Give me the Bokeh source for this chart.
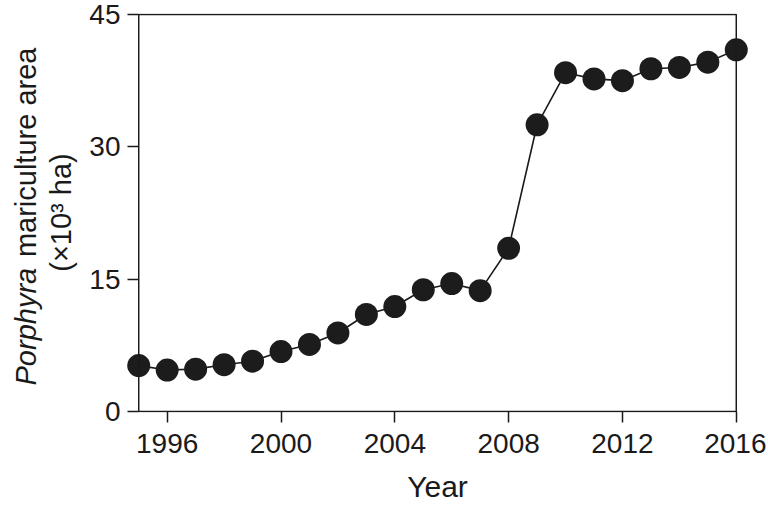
import numpy as np
from bokeh.plotting import figure
from bokeh.layouts import row
from bokeh.models import Range1d, FixedTicker, BoxAnnotation
from bokeh.core.properties import value
from bokeh.embed import file_html
from bokeh.resources import INLINE

# ---- data ----
years = list(range(1995, 2017))
area = [5.2, 4.7, 4.8, 5.3, 5.7, 6.8, 7.6, 8.9, 11.0, 11.9, 13.8,
        14.5, 13.7, 18.5, 32.5, 38.4, 37.7, 37.5, 38.85, 39.0, 39.6, 41.0]
x_ticks = [1996, 2000, 2004, 2008, 2012, 2016]
y_ticks = [0, 15, 30, 45]
x_start, x_end = 1995, 2016
y_start, y_end = 0, 45

FONT = "Liberation Sans"
INK = "#1a1a1a"
XPAD = 0.5      # room so the edge markers are not clipped
YPAD = 0.1133   # ~1 px

TOTAL_W, H = 766, 507
LAB_W = 80
FRAME_LEFT = 124       # window x of the main plot's frame
TOP, BOTTOM = 13, 95   # shared borders so the frames line up

# ---------------- y-axis title strip ----------------
# frame covers window rows TOP..H-BOTTOM; 1 data unit = 1 px, y measured upward
lab = figure(width=LAB_W, height=H, output_backend="svg", toolbar_location=None,
             x_range=Range1d(0, LAB_W), y_range=Range1d(BOTTOM, H - TOP),
             x_axis_type=None, y_axis_type=None,
             min_border_left=0, min_border_right=0,
             min_border_top=TOP, min_border_bottom=BOTTOM)
lab.outline_line_color = None
lab.xgrid.grid_line_color = None
lab.ygrid.grid_line_color = None

tcommon = dict(angle=np.pi / 2, text_font=value(FONT), text_font_size="29px",
               text_color=INK, text_baseline="alphabetic")
lab.text(x=[25], y=[H - 385], text=["Porphyra"], text_align="left",
         text_font_style="italic", **tcommon)
lab.text(x=[25], y=[H - 39], text=[" mariculture area"], text_align="right",
         text_font_style="normal", **tcommon)
lab.text(x=[60], y=[H - 212], text=["(×10³ ha)"], text_align="center",
         text_font_style="normal", **tcommon)

# ---------------- main plot ----------------
p = figure(width=TOTAL_W - LAB_W, height=H, output_backend="svg", toolbar_location=None,
           x_range=Range1d(x_start - XPAD, x_end + XPAD),
           y_range=Range1d(y_start - YPAD, y_end + YPAD),
           min_border_left=FRAME_LEFT - LAB_W, min_border_right=16,
           min_border_top=TOP, min_border_bottom=BOTTOM)

p.outline_line_color = None
p.xgrid.grid_line_color = None
p.ygrid.grid_line_color = None

# frame box at the true data extent
p.add_layout(BoxAnnotation(left=x_start, right=x_end, bottom=y_start, top=y_end,
                           fill_color=None, fill_alpha=0,
                           line_color=INK, line_alpha=1, line_width=1.5))

for ax in (p.xaxis[0], p.yaxis[0]):
    ax.axis_line_color = None
    ax.major_tick_line_color = INK
    ax.major_tick_line_width = 1.5
    ax.minor_tick_line_color = None
    ax.major_label_text_font = FONT
    ax.major_label_text_font_size = "28px"
    ax.major_label_text_color = INK

xa = p.xaxis[0]
xa.ticker = FixedTicker(ticks=x_ticks, minor_ticks=[])
xa.major_tick_out = 10
xa.major_tick_in = 1
xa.major_label_standoff = 11
xa.axis_label = "Year"
xa.axis_label_text_font = FONT
xa.axis_label_text_font_size = "30px"
xa.axis_label_text_font_style = "normal"
xa.axis_label_text_color = INK
xa.axis_label_standoff = 14

ya = p.yaxis[0]
ya.ticker = FixedTicker(ticks=y_ticks, minor_ticks=[])
ya.major_tick_in = 14
ya.major_tick_out = -3
ya.major_label_standoff = 4

p.line(years, area, line_color=INK, line_width=1.6)
p.scatter(years, area, size=23, fill_color="#1c1c1c", line_color=None)

layout = row(lab, p)
open("out.html", "w").write(file_html(layout, INLINE))
